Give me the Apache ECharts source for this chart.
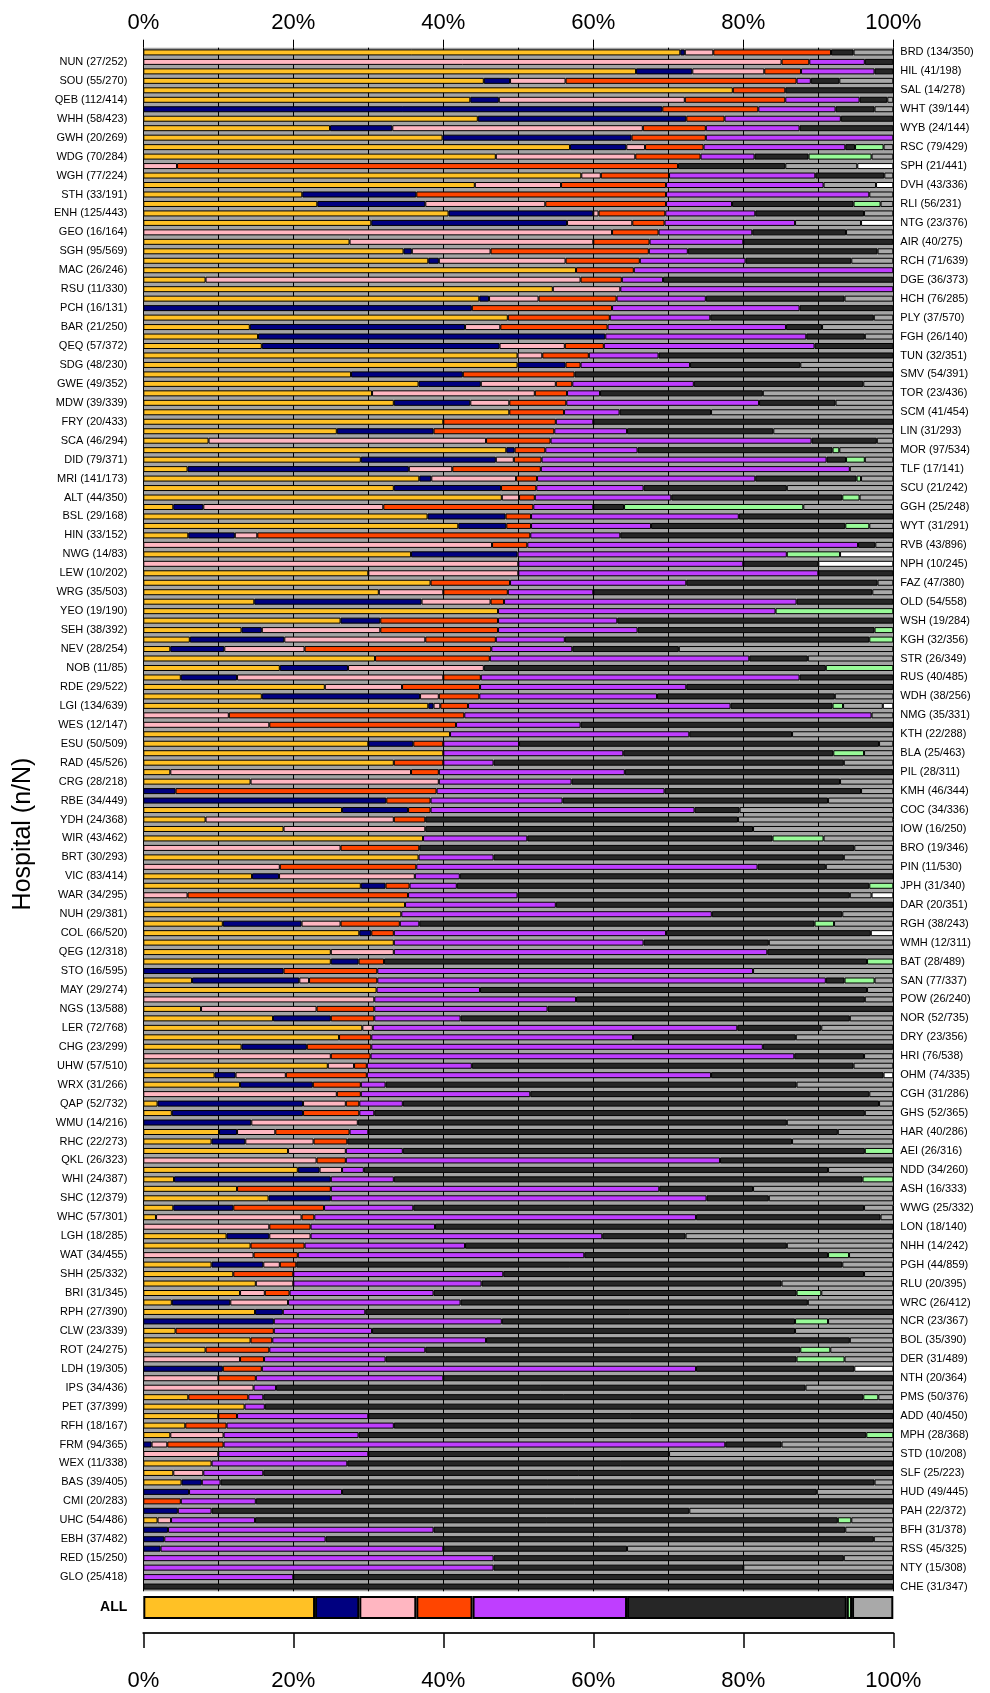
<!DOCTYPE html>
<html>
<head>
<meta charset="utf-8">
<script src="https://cdn.jsdelivr.net/npm/echarts@6/dist/echarts.min.js"></script>
<style>
  html, body { margin: 0; padding: 0; background: #fff; }
  #chart { width: 990px; height: 1693px; }
</style>
</head>
<body>
<div id="chart"></div>
<script>
// hospitals, top row first
var hospitals = [
  'BRD (134/350)', 'NUN (27/252)', 'HIL (41/198)', 'SOU (55/270)', 'SAL (14/278)', 'QEB (112/414)', 'WHT (39/144)', 'WHH (58/423)', 'WYB (24/144)', 'GWH (20/269)',
  'RSC (79/429)', 'WDG (70/284)', 'SPH (21/441)', 'WGH (77/224)', 'DVH (43/336)', 'STH (33/191)', 'RLI (56/231)', 'ENH (125/443)', 'NTG (23/376)', 'GEO (16/164)',
  'AIR (40/275)', 'SGH (95/569)', 'RCH (71/639)', 'MAC (26/246)', 'DGE (36/373)', 'RSU (11/330)', 'HCH (76/285)', 'PCH (16/131)', 'PLY (37/570)', 'BAR (21/250)',
  'FGH (26/140)', 'QEQ (57/372)', 'TUN (32/351)', 'SDG (48/230)', 'SMV (54/391)', 'GWE (49/352)', 'TOR (23/436)', 'MDW (39/339)', 'SCM (41/454)', 'FRY (20/433)',
  'LIN (31/293)', 'SCA (46/294)', 'MOR (97/534)', 'DID (79/371)', 'TLF (17/141)', 'MRI (141/173)', 'SCU (21/242)', 'ALT (44/350)', 'GGH (25/248)', 'BSL (29/168)',
  'WYT (31/291)', 'HIN (33/152)', 'RVB (43/896)', 'NWG (14/83)', 'NPH (10/245)', 'LEW (10/202)', 'FAZ (47/380)', 'WRG (35/503)', 'OLD (54/558)', 'YEO (19/190)',
  'WSH (19/284)', 'SEH (38/392)', 'KGH (32/356)', 'NEV (28/254)', 'STR (26/349)', 'NOB (11/85)', 'RUS (40/485)', 'RDE (29/522)', 'WDH (38/256)', 'LGI (134/639)',
  'NMG (35/331)', 'WES (12/147)', 'KTH (22/288)', 'ESU (50/509)', 'BLA (25/463)', 'RAD (45/526)', 'PIL (28/311)', 'CRG (28/218)', 'KMH (46/344)', 'RBE (34/449)',
  'COC (34/336)', 'YDH (24/368)', 'IOW (16/250)', 'WIR (43/462)', 'BRO (19/346)', 'BRT (30/293)', 'PIN (11/530)', 'VIC (83/414)', 'JPH (31/340)', 'WAR (34/295)',
  'DAR (20/351)', 'NUH (29/381)', 'RGH (38/243)', 'COL (66/520)', 'WMH (12/311)', 'QEG (12/318)', 'BAT (28/489)', 'STO (16/595)', 'SAN (77/337)', 'MAY (29/274)',
  'POW (26/240)', 'NGS (13/588)', 'NOR (52/735)', 'LER (72/768)', 'DRY (23/356)', 'CHG (23/299)', 'HRI (76/538)', 'UHW (57/510)', 'OHM (74/335)', 'WRX (31/266)',
  'CGH (31/286)', 'QAP (52/732)', 'GHS (52/365)', 'WMU (14/216)', 'HAR (40/286)', 'RHC (22/273)', 'AEI (26/316)', 'QKL (26/323)', 'NDD (34/260)', 'WHI (24/387)',
  'ASH (16/333)', 'SHC (12/379)', 'WWG (25/332)', 'WHC (57/301)', 'LON (18/140)', 'LGH (18/285)', 'NHH (14/242)', 'WAT (34/455)', 'PGH (44/859)', 'SHH (25/332)',
  'RLU (20/395)', 'BRI (31/345)', 'WRC (26/412)', 'RPH (27/390)', 'NCR (23/367)', 'CLW (23/339)', 'BOL (35/390)', 'ROT (24/275)', 'DER (31/489)', 'LDH (19/305)',
  'NTH (20/364)', 'IPS (34/436)', 'PMS (50/376)', 'PET (37/399)', 'ADD (40/450)', 'RFH (18/167)', 'MPH (28/368)', 'FRM (94/365)', 'STD (10/208)', 'WEX (11/338)',
  'SLF (25/223)', 'BAS (39/405)', 'HUD (49/445)', 'CMI (20/283)', 'PAH (22/372)', 'UHC (54/486)', 'BFH (31/378)', 'EBH (37/482)', 'RSS (45/325)', 'RED (15/250)',
  'NTY (15/308)', 'GLO (25/418)', 'CHE (31/347)'
];

// percentage of each hospital in each group, same row order
var orange = [
  71.6, 0, 65.7, 45.4, 78.6, 43.6, 0, 44.6, 24.9, 39.9,
  56.9, 47.0, 0, 58.4, 44.2, 21.2, 23.2, 40.7, 30.4, 0,
  27.5, 34.7, 38.0, 57.7, 8.3, 54.6, 44.8, 0, 48.6, 14.2,
  15.3, 15.8, 49.9, 49.9, 27.7, 36.7, 30.5, 33.4, 48.8, 40.0,
  25.8, 8.7, 48.4, 29.0, 5.9, 36.8, 33.4, 47.8, 4.0, 37.9,
  42.0, 6.0, 0, 35.7, 0, 30.0, 38.3, 31.4, 14.8, 47.3,
  26.3, 13.1, 6.2, 3.6, 30.9, 18.2, 5.0, 24.2, 15.8, 38.0,
  0, 0, 40.9, 30.0, 40.0, 33.4, 3.6, 14.3, 0, 0,
  26.5, 8.3, 18.7, 37.3, 0, 36.7, 0, 14.5, 29.0, 0,
  34.9, 34.4, 10.6, 28.8, 33.4, 25.0, 25.0, 0, 6.5, 31.1,
  0, 7.7, 17.3, 29.2, 26.1, 13.1, 0, 24.6, 9.5, 12.9,
  0, 1.9, 3.8, 0, 10.1, 9.1, 19.3, 0, 20.6, 4.1,
  12.5, 16.7, 4.0, 1.7, 0, 11.1, 14.3, 0, 9.1, 12.0,
  15.0, 12.9, 3.8, 14.9, 0, 4.3, 14.3, 8.3, 0, 0,
  0, 0, 6.0, 13.5, 10.0, 5.6, 3.6, 0, 0, 9.1,
  4.0, 5.1, 0, 0, 0, 1.9, 0, 0, 0, 0,
  0, 0, 0
];
var navy = [
  0.6, 0, 7.5, 3.5, 0, 3.8, 69.2, 27.8, 8.3, 25.2,
  7.5, 0, 0, 0, 0, 15.2, 14.4, 19.3, 26.1, 0,
  0, 1.1, 1.4, 0, 0, 0, 1.3, 43.8, 0, 28.7,
  46.3, 31.7, 0, 6.4, 14.9, 8.3, 0, 10.2, 0, 0,
  12.9, 0, 1.1, 18.0, 29.5, 1.6, 14.3, 0, 4.0, 10.4,
  6.4, 6.2, 0, 14.2, 0, 0, 0, 0, 22.3, 0,
  5.3, 2.7, 12.6, 7.2, 0, 9.1, 7.5, 0, 21.1, 0.7,
  0, 0, 0, 6.0, 0, 0, 0, 0, 4.3, 32.4,
  8.8, 0, 0, 0, 0, 0, 0, 3.6, 3.3, 0,
  0, 0, 10.5, 1.6, 0, 0, 3.7, 18.7, 14.3, 0,
  0, 0, 7.7, 0, 0, 8.7, 0, 0, 2.8, 9.7,
  0, 19.4, 17.5, 14.4, 2.4, 4.5, 0, 0, 2.9, 20.9,
  0, 8.3, 8.0, 0, 0, 5.7, 0, 0, 6.9, 0,
  0, 0, 7.8, 3.7, 17.4, 0, 0, 0, 0, 10.6,
  0, 0, 0, 0, 0, 0, 0, 1.1, 0, 0,
  0, 2.7, 6.1, 0, 4.6, 0, 3.3, 2.8, 2.3, 0,
  0, 0, 0
];
var pink = [
  3.8, 85.1, 9.6, 7.4, 0, 24.8, 0, 0, 33.4, 0,
  2.5, 18.6, 4.5, 2.6, 11.5, 0, 16.0, 0.7, 8.7, 62.5,
  32.5, 10.5, 16.9, 0, 50.0, 9.0, 6.6, 0, 0, 4.7,
  0, 8.7, 3.3, 0, 0, 10.0, 21.7, 5.2, 0, 0,
  0, 37.0, 0, 2.4, 5.8, 11.3, 0, 2.3, 24.0, 0,
  0, 3.0, 46.5, 0, 50.0, 20.0, 0, 8.6, 9.2, 0,
  0, 15.8, 18.8, 10.7, 0, 18.1, 27.5, 10.3, 2.5, 0.9,
  11.4, 16.8, 0, 0, 0, 0, 32.1, 25.1, 0, 0,
  0, 25.1, 18.9, 0, 26.3, 0, 18.2, 18.1, 0, 5.9,
  0, 0, 5.2, 0, 0, 8.4, 0, 0, 1.3, 0,
  30.8, 15.4, 0, 1.4, 0, 0, 25.0, 3.5, 6.7, 0,
  25.8, 5.7, 0, 14.2, 5.1, 9.1, 7.7, 23.1, 3.0, 0,
  0, 0, 0, 19.4, 16.8, 5.5, 0, 14.7, 2.2, 0,
  5.0, 3.3, 7.7, 0, 0, 0, 0, 0, 12.9, 0,
  10.0, 14.7, 0, 0, 0, 0, 7.1, 2.1, 10.0, 0,
  4.0, 0, 0, 0, 0, 1.8, 0, 0, 0, 0,
  0, 0, 0
];
var red = [
  15.7, 3.7, 4.9, 30.8, 7.0, 13.4, 12.8, 5.1, 8.4, 9.9,
  7.8, 8.7, 66.8, 9.1, 14.0, 33.3, 16.1, 8.9, 4.3, 6.2,
  7.5, 21.1, 9.9, 7.7, 5.5, 0, 10.4, 18.7, 13.6, 14.3,
  0, 5.2, 6.2, 2.0, 14.9, 2.2, 4.3, 7.6, 7.3, 15.0,
  16.1, 8.6, 4.1, 3.7, 11.8, 2.8, 4.7, 2.1, 20.0, 3.4,
  3.3, 36.4, 4.7, 0, 0, 0, 10.6, 8.6, 1.8, 0,
  15.7, 15.7, 9.4, 24.9, 15.3, 0, 5.0, 10.4, 5.4, 3.7,
  31.4, 24.9, 0, 4.0, 0, 6.6, 3.7, 0, 34.8, 5.9,
  3.0, 4.2, 0, 0, 10.5, 0, 18.2, 0, 3.2, 29.4,
  0, 0, 7.9, 3.0, 0, 0, 3.4, 12.5, 9.1, 0,
  0, 7.7, 5.8, 0, 4.3, 8.6, 5.3, 1.7, 10.8, 6.4,
  3.2, 1.8, 7.5, 0, 9.9, 4.5, 0, 3.9, 0, 0,
  12.5, 0, 12.1, 1.7, 5.5, 0, 7.2, 5.9, 2.2, 8.0,
  0, 3.3, 0, 0, 0, 13.1, 2.9, 8.5, 3.2, 5.2,
  5.0, 0, 8.0, 0, 2.5, 5.5, 0, 7.5, 0, 0,
  0, 0, 0, 5.0, 0, 0, 0, 0, 0, 0,
  0, 0, 0
];
var purple = [
  0, 7.4, 9.8, 1.9, 0, 9.9, 10.3, 15.5, 12.5, 25.0,
  18.9, 7.2, 0, 19.5, 21.0, 27.1, 8.8, 12.0, 17.4, 12.5,
  12.5, 5.2, 14.1, 34.6, 5.5, 36.4, 11.9, 25.0, 13.4, 23.8,
  26.8, 28.1, 9.3, 14.6, 0, 16.2, 4.4, 25.7, 7.4, 5.0,
  9.7, 34.8, 12.3, 38.0, 41.2, 29.1, 14.3, 18.2, 8.0, 27.7,
  16.0, 12.0, 44.1, 35.9, 30.0, 40.0, 23.5, 11.4, 39.0, 37.0,
  15.9, 18.6, 9.2, 10.8, 34.6, 0, 42.5, 27.5, 23.7, 35.0,
  54.3, 16.6, 31.9, 10.1, 24.0, 6.7, 24.8, 17.7, 30.4, 17.6,
  35.2, 0, 0, 13.9, 0, 10.0, 45.5, 6.0, 6.3, 14.6,
  20.1, 41.4, 2.6, 36.3, 33.3, 49.8, 0, 50.1, 59.8, 13.8,
  26.9, 23.1, 11.5, 48.6, 34.9, 52.2, 56.5, 14.0, 45.9, 3.3,
  22.6, 5.8, 2.0, 0, 2.5, 0, 7.6, 49.9, 2.9, 8.4,
  43.8, 50.1, 11.9, 50.9, 16.6, 38.9, 21.4, 38.2, 0, 28.0,
  25.1, 19.2, 23.0, 11.0, 30.4, 13.1, 28.5, 20.8, 16.2, 57.9,
  25.0, 3.0, 2.0, 2.7, 17.5, 22.3, 18.0, 66.9, 20.0, 18.1,
  8.0, 2.5, 20.4, 10.0, 4.5, 11.2, 35.4, 21.5, 37.7, 46.7,
  46.7, 20.0, 0
];
var dark = [
  3.0, 3.8, 2.5, 3.8, 14.4, 3.7, 5.2, 7.0, 12.5, 0,
  1.3, 7.2, 14.3, 9.2, 0, 0, 16.2, 14.5, 0, 12.5,
  20.0, 25.3, 14.1, 0, 30.7, 0, 18.5, 12.5, 21.8, 4.8,
  7.8, 10.5, 31.3, 14.7, 42.5, 22.6, 21.7, 10.2, 12.2, 40.0,
  19.5, 8.7, 26.0, 2.6, 0, 13.5, 19.1, 22.8, 4.1, 20.6,
  25.9, 36.4, 2.3, 0, 10.0, 10.0, 25.5, 37.2, 12.9, 0,
  36.8, 31.6, 40.6, 14.2, 7.8, 45.6, 12.5, 27.6, 23.7, 13.6,
  0, 41.7, 13.7, 48.0, 28.0, 46.7, 35.8, 35.8, 26.2, 35.4,
  6.0, 41.7, 43.7, 32.7, 58.0, 46.7, 9.1, 57.8, 55.0, 44.3,
  45.0, 17.4, 52.7, 27.3, 16.7, 16.8, 64.4, 0, 2.5, 51.6,
  38.5, 46.1, 51.9, 11.2, 21.7, 17.4, 9.3, 50.9, 23.0, 54.8,
  45.2, 63.5, 65.4, 57.2, 62.6, 59.3, 61.6, 23.1, 61.9, 62.5,
  12.5, 8.3, 60.1, 24.6, 61.1, 11.1, 42.9, 32.5, 72.8, 48.1,
  40.0, 48.4, 46.3, 70.4, 39.1, 56.4, 48.5, 50.0, 54.8, 21.1,
  60.0, 70.6, 80.0, 83.8, 70.0, 66.6, 67.7, 7.5, 40.1, 72.8,
  84.0, 87.2, 63.3, 85.0, 63.7, 77.7, 54.9, 73.1, 24.5, 46.7,
  33.3, 80.0, 100
];
var green = [
  0, 0, 0, 0, 0, 0, 0, 0, 0, 0,
  3.8, 8.4, 0, 0, 0, 0, 3.6, 0, 0, 0,
  0, 0, 0, 0, 0, 0, 0, 0, 0, 0,
  0, 0, 0, 0, 0, 0, 0, 0, 0, 0,
  0, 0, 0.9, 2.5, 0, 0.6, 0, 2.3, 23.9, 0,
  3.2, 0, 0, 7.1, 0, 0, 0, 0, 0, 15.7,
  0, 2.5, 3.2, 0, 0, 9.0, 0, 0, 0, 1.4,
  0, 0, 0, 0, 4.1, 0, 0, 0, 0, 0,
  0, 0, 0, 6.8, 0, 0, 0, 0, 3.2, 0,
  0, 0, 2.6, 0, 0, 0, 3.5, 0, 4.0, 0,
  0, 0, 0, 0, 0, 0, 0, 0, 0, 0,
  0, 0, 0, 0, 0, 0, 3.8, 0, 0, 4.1,
  0, 0, 0, 0, 0, 0, 0, 2.8, 0, 0,
  0, 3.3, 0, 0, 4.4, 0, 0, 4.0, 6.4, 0,
  0, 0, 2.0, 0, 0, 0, 3.6, 0, 0, 0,
  0, 0, 0, 0, 0, 1.8, 0, 0, 0, 0,
  0, 0, 0
];
var grey = [
  5.3, 0, 0, 7.2, 0, 0.8, 2.5, 0, 0, 0,
  1.3, 2.9, 9.6, 1.2, 7.0, 3.2, 1.7, 3.9, 8.8, 6.3,
  0, 2.1, 5.6, 0, 0, 0, 6.5, 0, 2.6, 9.5,
  3.8, 0, 0, 12.4, 0, 4.0, 17.4, 7.7, 24.3, 0,
  16.0, 2.2, 7.2, 3.8, 5.8, 4.3, 14.2, 4.5, 12.0, 0,
  3.2, 0, 2.4, 0, 0, 0, 2.1, 2.8, 0, 0,
  0, 0, 0, 28.6, 11.4, 0, 0, 0, 7.8, 5.3,
  2.9, 0, 13.5, 1.9, 3.9, 6.6, 0, 7.1, 4.3, 8.7,
  20.5, 20.7, 18.7, 9.3, 5.2, 6.6, 9.0, 0, 0, 2.9,
  0, 6.8, 7.9, 0, 16.6, 0, 0, 18.7, 2.5, 3.5,
  3.8, 0, 5.8, 9.6, 13.0, 0, 3.9, 5.3, 0, 12.9,
  3.2, 1.9, 3.8, 14.2, 7.4, 13.5, 0, 0, 8.7, 0,
  18.7, 16.6, 3.9, 1.7, 0, 27.7, 14.2, 5.9, 6.8, 3.9,
  14.9, 9.6, 11.4, 0, 8.7, 13.1, 5.8, 8.4, 6.5, 0,
  0, 11.7, 2.0, 0, 0, 0, 0, 14.9, 29.9, 0,
  0, 2.5, 10.2, 0, 27.2, 5.6, 6.4, 2.6, 35.5, 6.6,
  20.0, 0, 0
];
var white = [
  0, 0, 0, 0, 0, 0, 0, 0, 0, 0,
  0, 0, 4.8, 0, 2.3, 0, 0, 0, 4.3, 0,
  0, 0, 0, 0, 0, 0, 0, 0, 0, 0,
  0, 0, 0, 0, 0, 0, 0, 0, 0, 0,
  0, 0, 0, 0, 0, 0, 0, 0, 0, 0,
  0, 0, 0, 7.1, 10.0, 0, 0, 0, 0, 0,
  0, 0, 0, 0, 0, 0, 0, 0, 0, 1.4,
  0, 0, 0, 0, 0, 0, 0, 0, 0, 0,
  0, 0, 0, 0, 0, 0, 0, 0, 0, 2.9,
  0, 0, 0, 3.0, 0, 0, 0, 0, 0, 0,
  0, 0, 0, 0, 0, 0, 0, 0, 1.3, 0,
  0, 0, 0, 0, 0, 0, 0, 0, 0, 0,
  0, 0, 0, 0, 0, 0, 0, 0, 0, 0,
  0, 0, 0, 0, 0, 0, 0, 0, 0, 5.2,
  0, 0, 0, 0, 0, 0, 0, 0, 0, 0,
  0, 0, 0, 0, 0, 0, 0, 0, 0, 0,
  0, 0, 0
];

// all hospitals pooled, group order as above
var allRow = [22.9, 5.9, 7.6, 7.5, 20.6, 29.3, 0.7, 5.5, 0];

var groupNames = ['orange', 'navy', 'pink', 'red', 'purple', 'dark', 'green', 'grey', 'white'];
var groupData = [orange, navy, pink, red, purple, dark, green, grey, white];
var colors = ['#FFC125', '#000080', '#FFB6C1', '#FF4500', '#BF3EFF', '#262626', '#98FB98', '#A9A9A9', '#FFFFFF'];

var font = '"Liberation Sans", Arial, Helvetica, sans-serif';
var plotLeft = 143.3, plotRight = 990 - 893.3;
var rowStep = 9.47;

function skipZero(v) { return v > 0 ? v : '-'; }

var series = [];
groupNames.forEach(function (name, i) {
  series.push({
    type: 'bar', name: name, stack: 'rows',
    xAxisIndex: 0, yAxisIndex: 0,
    barWidth: 6,
    data: groupData[i].map(skipZero),
    itemStyle: { color: colors[i], borderColor: '#000', borderWidth: 1 }
  });
  series.push({
    type: 'bar', name: name, stack: 'all',
    xAxisIndex: 1, yAxisIndex: 2,
    barWidth: 23,
    data: [skipZero(allRow[i])],
    itemStyle: { color: colors[i], borderColor: '#000', borderWidth: 2 }
  });
});

var chart = echarts.init(document.getElementById('chart'));
chart.setOption({
  animation: false,
  backgroundColor: '#fff',
  textStyle: { fontFamily: font },
  grid: [
    { left: plotLeft, right: plotRight, top: 47.7, height: hospitals.length * rowStep,
      show: true, backgroundColor: '#a4a4a4', borderWidth: 0 },
    { left: plotLeft, right: plotRight, top: 1595, height: 25 }
  ],
  xAxis: [
    {
      gridIndex: 0, type: 'value', min: 0, max: 100, interval: 20, position: 'top',
      axisLine: { show: false },
      axisTick: { show: true, length: 8, lineStyle: { color: '#000', width: 1 } },
      axisLabel: { formatter: '{value}%', fontSize: 22, color: '#000', margin: 14, fontFamily: font },
      splitLine: { show: true, lineStyle: { color: '#000', width: 1 } },
      minorTick: { show: false, splitNumber: 2 },
      minorSplitLine: { show: true, lineStyle: { color: '#000', width: 1 } }
    },
    {
      gridIndex: 1, type: 'value', min: 0, max: 100, interval: 20, position: 'bottom', offset: 13,
      axisLine: { show: true, lineStyle: { color: '#222', width: 2 } },
      axisTick: { show: true, length: 15, lineStyle: { color: '#000', width: 1.5 } },
      axisLabel: { formatter: '{value}%', fontSize: 22, color: '#000', margin: 37, fontFamily: font },
      splitLine: { show: false }
    }
  ],
  yAxis: [
    {
      gridIndex: 0, type: 'category', data: hospitals, inverse: true, position: 'left',
      axisLine: { show: false }, axisTick: { show: false },
      axisLabel: {
        interval: 0, fontSize: 11, color: '#000', margin: 16, fontFamily: font,
        formatter: function (v, i) { return i % 2 === 1 ? v : ''; }
      }
    },
    {
      gridIndex: 0, type: 'category', data: hospitals, inverse: true, position: 'right',
      axisLine: { show: false }, axisTick: { show: false },
      axisLabel: {
        interval: 0, fontSize: 11, color: '#000', margin: 7, fontFamily: font,
        formatter: function (v, i) { return i % 2 === 0 ? v : ''; }
      }
    },
    {
      gridIndex: 1, type: 'category', data: ['ALL'],
      axisLine: { show: false }, axisTick: { show: false },
      axisLabel: { fontSize: 14, fontWeight: 'bold', color: '#000', margin: 16, fontFamily: font }
    }
  ],
  graphic: [{
    type: 'text', x: 23, y: 834, rotation: Math.PI / 2,
    style: { text: 'Hospital (n/N)', fontSize: 25, fontFamily: font, fill: '#000',
             align: 'center', verticalAlign: 'middle' }
  }],
  series: series
});
</script>
</body>
</html>
